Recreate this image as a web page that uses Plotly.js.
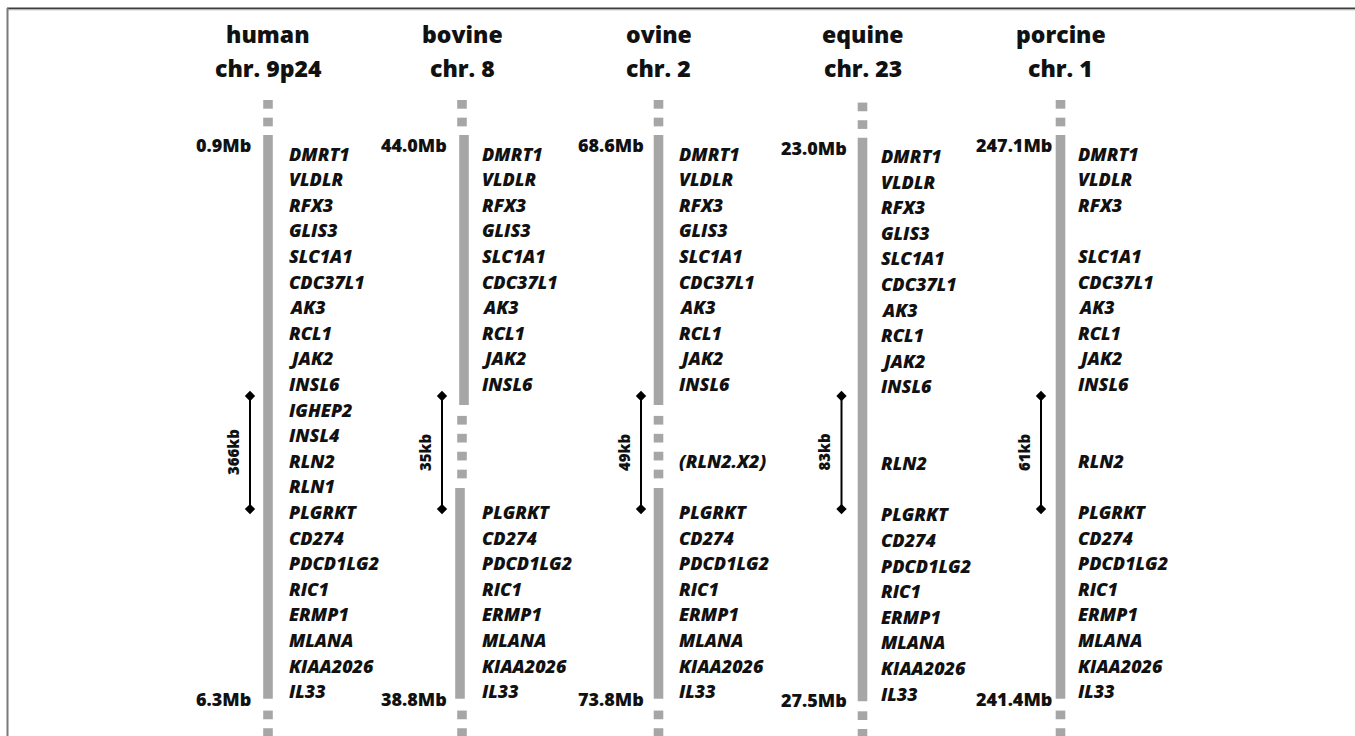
<!DOCTYPE html>
<html>
<head>
<meta charset="utf-8">
<script src="https://cdn.plot.ly/plotly-3.0.1.min.js"></script>
<style>
  html, body { margin: 0; padding: 0; background: #ffffff; }
  #chart { width: 1355px; height: 736px; }
</style>
</head>
<body>
<div id="chart"></div>
<script>
// ---------------- DATA ----------------
const species = ['human', 'bovine', 'ovine', 'equine', 'porcine'];
const chromosomes = ['chr. 9p24', 'chr. 8', 'chr. 2', 'chr. 23', 'chr. 1'];
const startMb = ['0.9Mb', '44.0Mb', '68.6Mb', '23.0Mb', '247.1Mb'];
const endMb = ['6.3Mb', '38.8Mb', '73.8Mb', '27.5Mb', '241.4Mb'];
const spanKb = ['366kb', '35kb', '49kb', '83kb', '61kb'];
const hasGap = [false, true, true, false, false];

const humanGenes = ['DMRT1','VLDLR','RFX3','GLIS3','SLC1A1','CDC37L1','AK3','RCL1','JAK2','INSL6',
  'IGHEP2','INSL4','RLN2','RLN1','PLGRKT','CD274','PDCD1LG2','RIC1','ERMP1','MLANA','KIAA2026','IL33'];
const bovineGenes = ['DMRT1','VLDLR','RFX3','GLIS3','SLC1A1','CDC37L1','AK3','RCL1','JAK2','INSL6',
  '','','','','PLGRKT','CD274','PDCD1LG2','RIC1','ERMP1','MLANA','KIAA2026','IL33'];
const ovineGenes = ['DMRT1','VLDLR','RFX3','GLIS3','SLC1A1','CDC37L1','AK3','RCL1','JAK2','INSL6',
  '','','(RLN2.X2)','','PLGRKT','CD274','PDCD1LG2','RIC1','ERMP1','MLANA','KIAA2026','IL33'];
const equineGenes = ['DMRT1','VLDLR','RFX3','GLIS3','SLC1A1','CDC37L1','AK3','RCL1','JAK2','INSL6',
  '','','RLN2','','PLGRKT','CD274','PDCD1LG2','RIC1','ERMP1','MLANA','KIAA2026','IL33'];
const porcineGenes = ['DMRT1','VLDLR','RFX3','','SLC1A1','CDC37L1','AK3','RCL1','JAK2','INSL6',
  '','','RLN2','','PLGRKT','CD274','PDCD1LG2','RIC1','ERMP1','MLANA','KIAA2026','IL33'];
const geneLists = [humanGenes, bovineGenes, ovineGenes, equineGenes, porcineGenes];

// ---------------- LAYOUT CONFIG (positions / styles) ----------------
const W = 1355, H = 736;
const ROW0_PX = 153.5, ROW_PX = 25.6;           // pixel of row 0, pixels per gene row
const colX = [268, 462, 658.5, 862.5, 1060.5];  // chromosome centre per column (x axis units = px)
const colYShift = [0, 0, 0, 0.1, 0];            // small vertical shift per column (rows)
const barShiftUpper = [0, 2, 0, 0, 0];
const barShiftLower = [0, -2, 0, 0, 0];
const mbGap = [17, 15, 14.5, 15.5, 8.5];
const geneGap = [21, 20, 20.5, 18.5, 17.5];
const arrowGap = [18, 20, 17.5, 21, 19.5];
const BAR_W = 9.6;
const BAR_TOP = -0.72, BAR_BOT = 21.3;
const GAP_TOP = 9.82, GAP_BOT = 13.07;
const DASH_LEN = 0.34;
const topDashStarts = [-2.09, -1.40];
const botDashStarts = [21.76, 22.45];
const gapDashStarts = [10.25, 10.95, 11.65, 12.35];
const ARROW_TOP = 9.47, ARROW_BOT = 13.89;
const BAR_COLOR = '#a6a6a6';
const FONT = 'Open Sans, Noto Sans, DejaVu Sans, sans-serif';
const TXT = '#111111';
const WEIGHT = 800;

const yTop = (0 - ROW0_PX) / ROW_PX;
const yBot = (H - ROW0_PX) / ROW_PX;

const shapes = [];
const annotations = [];
const traces = [];

function rect(xc, y0, y1) {
  shapes.push({
    type: 'rect', xref: 'x', yref: 'y', layer: 'below',
    x0: xc - BAR_W / 2, x1: xc + BAR_W / 2, y0: y0, y1: y1,
    fillcolor: BAR_COLOR, line: { width: 0 }
  });
}

function label(x, y, text, xanchor, size, extra) {
  annotations.push(Object.assign({
    x: x, y: y, xref: 'x', yref: 'y', text: text, showarrow: false,
    xanchor: xanchor, yanchor: 'middle', borderpad: 0, borderwidth: 0,
    font: { family: FONT, size: size, weight: WEIGHT, color: TXT }
  }, extra || {}));
}

species.forEach((sp, i) => {
  const xc = colX[i];
  const s = colYShift[i];
  // dashes above and below
  topDashStarts.forEach(d => rect(xc, d + s, d + DASH_LEN + s));
  botDashStarts.forEach(d => rect(xc, d + s * 0.3, d + DASH_LEN + s * 0.3));
  if (hasGap[i]) {
    rect(xc + barShiftUpper[i], BAR_TOP + s, GAP_TOP + s);
    gapDashStarts.forEach(d => rect(xc, d + s, d + DASH_LEN + s));
    rect(xc + barShiftLower[i], GAP_BOT + s, BAR_BOT + s);
  } else {
    rect(xc, BAR_TOP + s, BAR_BOT + s);
  }

  // titles
  label(xc, -4.66, sp, 'center', 23);
  label(xc, -3.33, chromosomes[i], 'center', 23);

  // Mb labels
  label(xc - mbGap[i], -0.33 + s, startMb[i], 'right', 18);
  label(xc - mbGap[i], 21.31 + s * 0.5, endMb[i], 'right', 18);

  // genes
  geneLists[i].forEach((g, r) => {
    if (!g) return;
    label(xc + geneGap[i], r + s, g, 'left', 18,
      { font: { family: FONT, size: 18, weight: WEIGHT, style: 'italic', color: TXT } });
  });

  // span arrow
  const ax = xc - arrowGap[i];
  traces.push({
    type: 'scatter', mode: 'lines+markers', x: [ax, ax], y: [ARROW_TOP, ARROW_BOT],
    line: { color: '#000000', width: 2 },
    marker: { symbol: 'diamond', size: 8, color: '#000000' },
    hoverinfo: 'skip', showlegend: false, cliponaxis: false
  });
  label(ax - 17.5, (ARROW_TOP + ARROW_BOT) / 2, spanKb[i], 'center', 15, { textangle: -90 });
});

// frame lines (top and left)
shapes.push({ type: 'line', xref: 'x', yref: 'paper', x0: 7, x1: W, y0: 1 - 8.5 / H, y1: 1 - 8.5 / H,
  line: { color: '#3c3c3c', width: 2 } });
shapes.push({ type: 'line', xref: 'x', yref: 'paper', x0: 8, x1: W, y0: 1 - 10 / H, y1: 1 - 10 / H,
  line: { color: '#cfcfcf', width: 1 } });
shapes.push({ type: 'line', xref: 'x', yref: 'paper', x0: 7.5, x1: 7.5, y0: 0, y1: 1 - 8 / H,
  line: { color: '#7a7a7a', width: 2 } });

const layout = {
  width: W, height: H,
  margin: { l: 0, r: 0, t: 0, b: 0, pad: 0 },
  paper_bgcolor: '#ffffff', plot_bgcolor: '#ffffff',
  showlegend: false,
  xaxis: { range: [0, W], visible: false, fixedrange: true },
  yaxis: { range: [yBot, yTop], visible: false, fixedrange: true },
  shapes: shapes,
  annotations: annotations
};

Plotly.newPlot('chart', traces, layout, { displayModeBar: false, staticPlot: true });
</script>
</body>
</html>
